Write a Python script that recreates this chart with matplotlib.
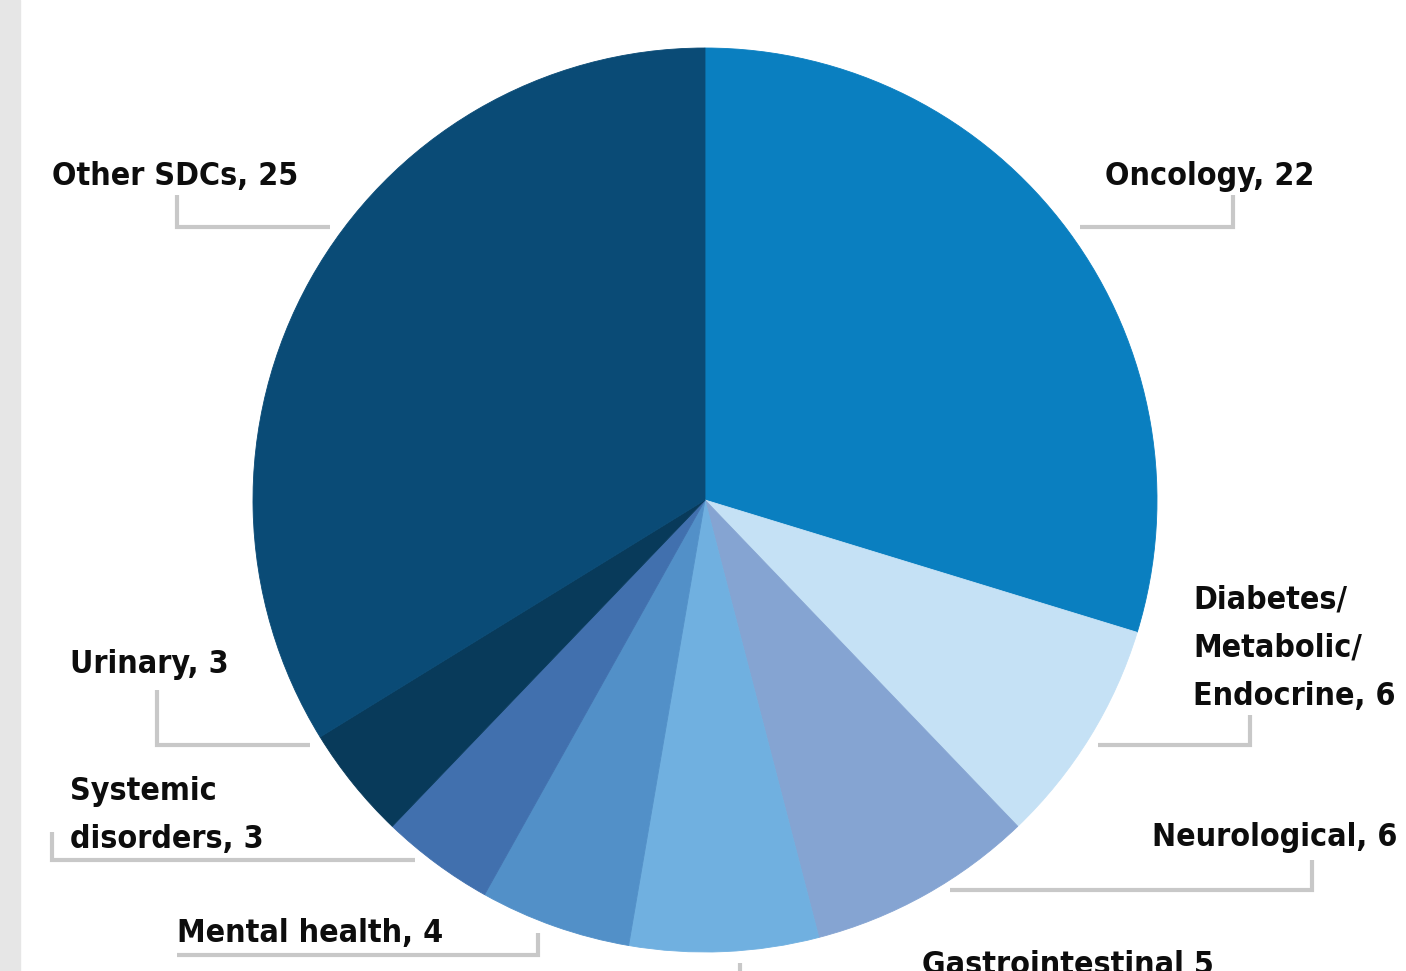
import matplotlib.pyplot as plt
from matplotlib.patches import Rectangle

# Studies by therapeutic area (clockwise from 12 o'clock)
areas = ["Oncology", "Diabetes/Metabolic/Endocrine", "Neurological", "Gastrointestinal",
         "Mental health", "Systemic disorders", "Urinary", "Other SDCs"]
counts = [22, 6, 6, 5, 4, 3, 3, 25]
colors = ["#0a7fc0", "#c5e1f5", "#85a4d2", "#70b0e0", "#5290c8", "#4170ae", "#083a5a", "#0a4b76"]

label_texts = ["Oncology, 22", "Diabetes/\nMetabolic/\nEndocrine, 6", "Neurological, 6",
               "Gastrointestinal 5", "Mental health, 4", "Systemic\ndisorders, 3",
               "Urinary, 3", "Other SDCs, 25"]

W, H = 1406, 971
plt.rcParams["font.family"] = ["DejaVu Sans"]

fig = plt.figure(figsize=(W / 100, H / 100), dpi=100)
ax = fig.add_axes([0, 0, 1, 1])

def py(y):
    # pixel row (from top) -> data y
    return H - y

wedges, _ = ax.pie(counts, colors=colors, startangle=90, counterclock=False,
                   center=(705, py(500)), radius=452,
                   wedgeprops=dict(linewidth=0.6, edgecolor="none"))
for w in wedges:
    w.set_edgecolor(w.get_facecolor())

# pie() resets the limits, so set the pixel frame afterwards
ax.set_xlim(0, W)
ax.set_ylim(0, H)
ax.set_aspect("equal")
ax.axis("off")

# grey strip along the left edge
ax.add_patch(Rectangle((0, 0), 20, H, color="#e6e6e6", zorder=0))

# leader lines (pixel coordinates)
leaders = [
    [(1080, 227), (1233, 227), (1233, 195)],
    [(1098, 745), (1250, 745), (1250, 715)],
    [(950, 890), (1312, 890), (1312, 860)],
    [(740, 963), (740, 975)],
    [(538, 933), (538, 955), (177, 955)],
    [(415, 860), (52, 860), (52, 832)],
    [(310, 745), (157, 745), (157, 690)],
    [(330, 227), (177, 227), (177, 195)],
]
for pts in leaders:
    xs = [p[0] for p in pts]
    ys = [py(p[1]) for p in pts]
    ax.plot(xs, ys, color="#c8c8c8", lw=3, solid_joinstyle="miter", solid_capstyle="butt")

# label anchors: left x, baseline of last line
label_pos = [(1105, 185), (1193, 705), (1152, 846), (922, 974), (177, 942),
             (70, 848), (70, 673), (52, 185)]
for txt, (x, y) in zip(label_texts, label_pos):
    ax.text(x, py(y), txt, fontsize=23, fontweight="bold", fontstretch="condensed",
            color="#0d0d0d", ha="left", va="baseline", linespacing=1.72)

fig.savefig("out.png", dpi=100)
